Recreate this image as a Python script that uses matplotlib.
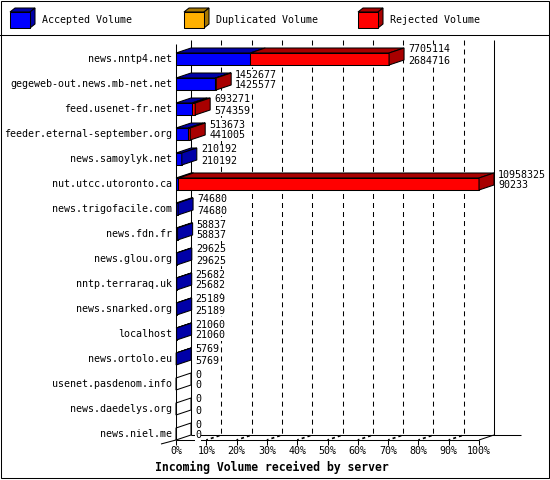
import matplotlib
matplotlib.use("Agg")
import matplotlib.pyplot as plt
from matplotlib.patches import Polygon, Rectangle

# ---------------- data ----------------
servers = [
    "news.nntp4.net", "gegeweb-out.news.mb-net.net", "feed.usenet-fr.net",
    "feeder.eternal-september.org", "news.samoylyk.net", "nut.utcc.utoronto.ca",
    "news.trigofacile.com", "news.fdn.fr", "news.glou.org", "nntp.terraraq.uk",
    "news.snarked.org", "localhost", "news.ortolo.eu", "usenet.pasdenom.info",
    "news.daedelys.org", "news.niel.me",
]
total_volume = [7705114, 1452677, 693271, 513673, 210192, 10958325, 74680, 58837,
                29625, 25682, 25189, 21060, 5769, 0, 0, 0]
accepted_volume = [2684716, 1425577, 574359, 441005, 210192, 90233, 74680, 58837,
                   29625, 25682, 25189, 21060, 5769, 0, 0, 0]
duplicated_volume = [0] * 16
series_names = ["Accepted Volume", "Duplicated Volume", "Rejected Volume"]
pct_ticks = [0, 10, 20, 30, 40, 50, 60, 70, 80, 90, 100]
tick_labels = [f"{p}%" for p in pct_ticks]
xlabel = "Incoming Volume received by server"

# ---------------- style ----------------
face_colors = ["#0000FF", "#FFB000", "#FF0000"]
dark_colors = ["#0000A8", "#A87800", "#A80000"]
W, H = 550, 480
FRONT_L, FRONT_R = 176, 479
TOP, FLOOR = 35, 440
ROW0, PITCH, BAR_H = 59, 25, 12
DEP_X, DEP_Y = 15, 5
LW = 0.75
FONT = "DejaVu Sans Mono"
FS = 7.2

plt.rcParams["lines.scale_dashes"] = False
fig = plt.figure(figsize=(W / 100, H / 100), dpi=100)
fig.patch.set_facecolor("white")

# decoration axes in pixel units
bg = fig.add_axes([0, 0, 1, 1])
bg.set_xlim(0, W)
bg.set_ylim(H, 0)
bg.axis("off")
bg.add_patch(Rectangle((0.5, 0.5), W - 2, H - 3, fill=False, lw=LW, ec="black"))
bg.plot([0, W], [TOP, TOP], color="black", lw=LW)

# legend cubes
for k, name in enumerate(series_names):
    x0 = 10 + 174 * k
    bg.add_patch(Polygon([(x0, 12), (x0 + 20, 12), (x0 + 25, 8), (x0 + 5, 8)],
                         closed=True, fc=dark_colors[k], ec="black", lw=LW))
    bg.add_patch(Polygon([(x0 + 20, 12), (x0 + 20, 28), (x0 + 25, 24), (x0 + 25, 8)],
                         closed=True, fc=dark_colors[k], ec="black", lw=LW))
    bg.add_patch(Rectangle((x0, 12), 20, 16, fc=face_colors[k], ec="black", lw=LW))
    bg.text(x0 + 32, 20, name, ha="left", va="center", family=FONT, fontsize=FS)

bg.text(155, 467, xlabel, ha="left", va="center", family=FONT,
        fontsize=8.3, fontweight="bold")

# main axes: front plane
n = len(servers)
ax = fig.add_axes([FRONT_L / W, (H - FLOOR) / H, (FRONT_R - FRONT_L) / W, (FLOOR - TOP) / H])
xmax = max(total_volume)
y_bottom = (n - 1) + (FLOOR - (ROW0 + PITCH * (n - 1))) / PITCH
y_top = -(ROW0 - TOP) / PITCH
ax.set_xlim(0, xmax)
ax.set_ylim(y_bottom, y_top)
ax.axis("off")

sx = xmax / (FRONT_R - FRONT_L)   # data units per pixel (x)
sy = 1.0 / PITCH                  # rows per pixel (y, downward)
DX = DEP_X * sx
DY = -DEP_Y * sy
half = BAR_H / 2 * sy

def line(xs, ys, **kw):
    kw.setdefault("color", "black")
    kw.setdefault("lw", LW)
    ax.plot(xs, ys, clip_on=False, solid_capstyle="butt", **kw)

# walls and floor
wall_top = y_top + 5 * sy
back_floor = y_bottom + DY
line([DX, DX], [wall_top, back_floor], zorder=1)
line([xmax + DX, xmax + DX], [wall_top, back_floor], zorder=1)
line([0, 0], [y_top + 9 * sy, y_bottom], zorder=4)
line([DX, xmax + DX + 27 * sx], [back_floor, back_floor], zorder=1)
line([0, xmax], [y_bottom, y_bottom], zorder=1)
line([xmax, xmax + DX], [y_bottom, back_floor], zorder=1)
line([0, -DX], [y_bottom, y_bottom - DY * 0.8], zorder=1)

for p, lab in zip(pct_ticks, tick_labels):
    xv = p / 100 * xmax
    line([xv, xv], [y_bottom, y_bottom + 5 * sy], zorder=1)
    if 0 < p < 100:
        line([xv + DX, xv + DX], [wall_top, back_floor], zorder=1,
             linestyle=(0, (3.6, 2.9)))
        line([xv, xv + DX], [y_bottom, back_floor], zorder=1,
             linestyle=(1, (2.2, 2.2)), lw=1.2)
    ax.text(xv, y_bottom + 11 * sy, lab, ha="center", va="center",
            family=FONT, fontsize=FS, clip_on=False)

# bars
for i in range(n):
    acc = accepted_volume[i]
    dup = duplicated_volume[i]
    rej = total_volume[i] - acc - dup
    segs = [acc, dup, rej]
    top = i - half
    bot = i + half
    left = 0.0
    last = None
    for k, v in enumerate(segs):
        if v <= 0:
            continue
        right = left + v
        ax.add_patch(Polygon([(left, top), (right, top), (right + DX, top + DY), (left + DX, top + DY)],
                             closed=True, fc=dark_colors[k], ec="black", lw=LW,
                             clip_on=False, zorder=3))
        ax.add_patch(Rectangle((left, top), v, bot - top, fc=face_colors[k],
                               ec="black", lw=LW, clip_on=False, zorder=3))
        left = right
        last = k
    end = total_volume[i]
    side_fc = dark_colors[last] if last is not None else "white"
    ax.add_patch(Polygon([(end, top), (end, bot), (end + DX, bot + DY), (end + DX, top + DY)],
                         closed=True, fc=side_fc, ec="black", lw=LW,
                         clip_on=False, zorder=3))
    tx = end + DX + 4 * sx
    ax.text(tx, i - 9.5 * sy, f"{total_volume[i]}", ha="left", va="center",
            family=FONT, fontsize=FS, clip_on=False, zorder=5,
            bbox=dict(fc="white", ec="none", pad=0.3))
    ax.text(tx, i + 1.5 * sy, f"{acc}", ha="left", va="center",
            family=FONT, fontsize=FS, clip_on=False, zorder=5,
            bbox=dict(fc="white", ec="none", pad=0.3))
    ax.text(-4 * sx, i, servers[i], ha="right", va="center",
            family=FONT, fontsize=FS, clip_on=False, zorder=5)

fig.savefig("out.png", dpi=100, facecolor="white")
